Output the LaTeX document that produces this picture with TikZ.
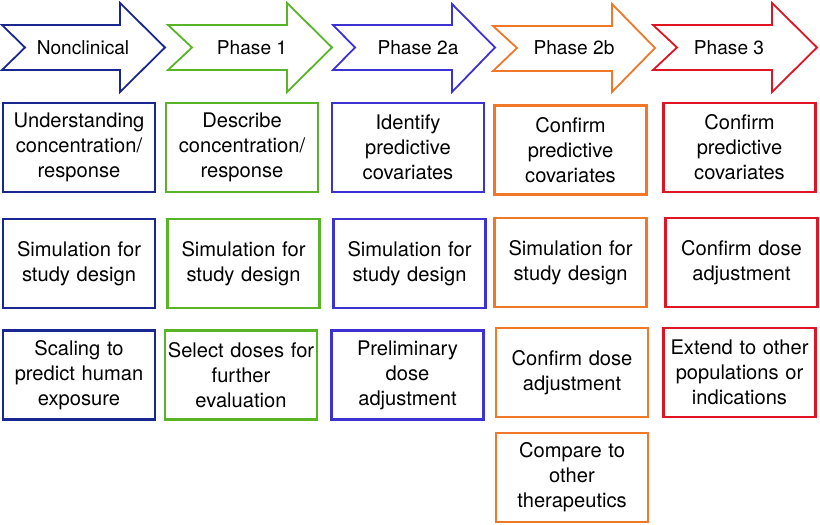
\documentclass[tikz,border=0pt]{standalone}
\usepackage{fontspec}
\setmainfont{TeX Gyre Heros}
\definecolor{cnav}{RGB}{25,40,145}
\definecolor{cgrn}{RGB}{90,180,40}
\definecolor{cvio}{RGB}{60,50,210}
\definecolor{corg}{RGB}{240,120,40}
\definecolor{cred}{RGB}{225,20,35}
\begin{document}
\begin{tikzpicture}[x=1bp,y=-1bp,
  arr/.style={line width=1.8bp,line join=miter},
  lab/.style={inner sep=0pt,font=\fontsize{19.2}{25}\selectfont},
  box/.style={draw,line width=2.2bp,minimum width=152bp,minimum height=89bp,
    text width=150bp,align=center,inner sep=0pt,font=\fontsize{20.2}{25}\selectfont}]
\useasboundingbox (0,0) rectangle (820,525);
% phase arrows
\draw[arr,cnav] (2,25) -- (120,25) -- (120,3) -- (165,47.5) -- (120,92) -- (120,70) -- (2,70) -- (25,47.5) -- cycle;
\draw[arr,cgrn] (168,25) -- (287,25) -- (287,3) -- (332,47.5) -- (287,92) -- (287,70) -- (168,70) -- (192,47.5) -- cycle;
\draw[arr,cvio] (333,25) -- (452,25) -- (452,4) -- (495,47.5) -- (452,92) -- (452,70) -- (333,70) -- (355,47.5) -- cycle;
\draw[arr,corg] (493,26) -- (612,26) -- (612,4) -- (655,48) -- (612,92) -- (612,71) -- (493,71) -- (517,48) -- cycle;
\draw[arr,cred] (653,25) -- (772,25) -- (772,3) -- (817,47.5) -- (772,92) -- (772,70) -- (653,70) -- (677,47.5) -- cycle;
\node[lab] (p0) at (83,47.5) {Nonclinical};
\node[lab] (p1) at (252,47.5) {Phase 1};
\node[lab] (p2) at (418,47.5) {Phase 2a};
\node[lab] (p3) at (574,47.5) {Phase 2b};
\node[lab] (p4) at (729,47.5) {Phase 3};
% column 1
\node[box,draw=cnav] (b11) at (79,147.5) {Understanding\\concentration/\\response};
\node[box,draw=cnav] (b12) at (79,263.5) {Simulation for\\study design};
\node[box,draw=cnav] (b13) at (79,375) {Scaling to\\predict human\\exposure};
% column 2
\node[box,draw=cgrn] (b21) at (242,147.5) {Describe\\concentration/\\response};
\node[box,draw=cgrn] (b22) at (243.5,263.5) {Simulation for\\study design};
\node[box,draw=cgrn] (b23) at (241,375) {Select doses for\\further\\evaluation};
% column 3
\node[box,draw=cvio] (b31) at (408,147.5) {Identify\\predictive\\covariates};
\node[box,draw=cvio] (b32) at (409.5,263.5) {Simulation for\\study design};
\node[box,draw=cvio] (b33) at (407.5,375) {Preliminary\\dose\\adjustment};
% column 4
\node[box,draw=corg] (b41) at (570.5,150) {Confirm\\predictive\\covariates};
\node[box,draw=corg] (b42) at (570.5,262.5) {Simulation for\\study design};
\node[box,draw=corg] (b43) at (572,372.5) {Confirm dose\\adjustment};
\node[box,draw=corg] (b44) at (572,477.5) {Compare to\\other\\therapeutics};
% column 5
\node[box,draw=cred] (b51) at (739.5,147.5) {Confirm\\predictive\\covariates};
\node[box,draw=cred] (b52) at (741.5,262.5) {Confirm dose\\adjustment};
\node[box,draw=cred] (b53) at (739.5,372.5) {Extend to other\\populations or\\indications};
\end{tikzpicture}
\end{document}
